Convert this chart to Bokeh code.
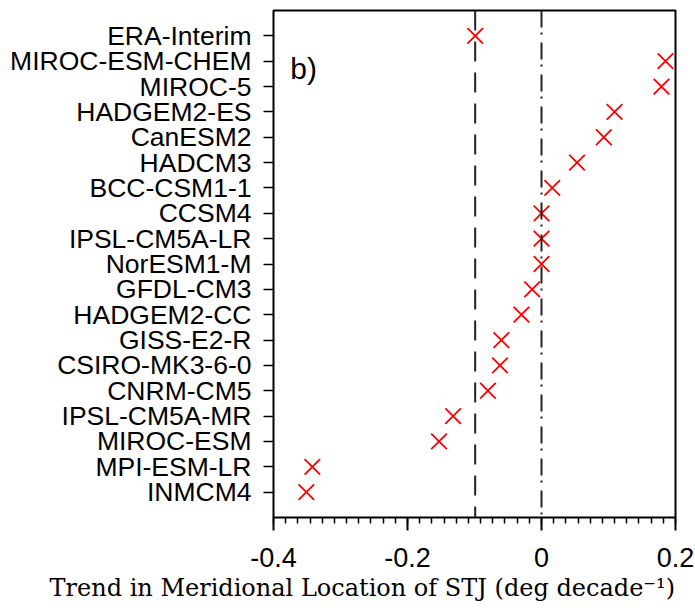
from bokeh.plotting import figure
from bokeh.models import FixedTicker, Span, Label, Range1d, Title
from bokeh.embed import file_html
from bokeh.resources import INLINE

models = ["ERA-Interim", "MIROC-ESM-CHEM", "MIROC-5", "HADGEM2-ES", "CanESM2",
          "HADCM3", "BCC-CSM1-1", "CCSM4", "IPSL-CM5A-LR", "NorESM1-M",
          "GFDL-CM3", "HADGEM2-CC", "GISS-E2-R", "CSIRO-MK3-6-0", "CNRM-CM5",
          "IPSL-CM5A-MR", "MIROC-ESM", "MPI-ESM-LR", "INMCM4"]
trends = [-0.099, 0.185, 0.179, 0.109, 0.093,
          0.053, 0.016, 0.0, 0.0, 0.0,
          -0.014, -0.030, -0.060, -0.062, -0.080,
          -0.132, -0.153, -0.342, -0.351]
era_trend = -0.099
x_ticks = [-0.4, -0.2, 0.0, 0.2]
x_tick_labels = {-0.4: "-0.4", -0.2: "-0.2", 0.0: "0", 0.2: "0.2"}

n = len(models)
ypos = [n - i for i in range(n)]

p = figure(width=695, height=615, output_backend="svg", toolbar_location=None,
           x_range=Range1d(-0.4, 0.2), y_range=Range1d(0, n + 1),
           min_border_left=273, min_border_right=20, min_border_top=10,
           min_border_bottom=98)
p.grid.visible = False
p.outline_line_color = "black"
p.outline_line_width = 2
p.background_fill_color = "white"
p.border_fill_color = "white"

# zero line and ERA-Interim line
p.add_layout(Span(location=0.0, dimension="height", line_color="#222222",
                  line_width=2, line_dash="17 5 2 8"))
p.add_layout(Span(location=era_trend, dimension="height", line_color="#222222",
                  line_width=2, line_dash="20 11"))

p.scatter(trends, ypos, marker="x", size=22, line_color="red", line_width=1.8)

# x axis
xa = p.xaxis[0]
xa.ticker = FixedTicker(ticks=x_ticks,
                        minor_ticks=[round(-0.4 + i * 0.2 / 11, 5) for i in range(34)])
xa.major_label_overrides = {k: v for k, v in x_tick_labels.items()}
xa.major_label_text_font = "Liberation Sans"
xa.major_label_text_font_size = "27px"
xa.major_label_text_color = "black"
xa.major_tick_in = 0
xa.major_tick_out = 13
xa.minor_tick_in = 0
xa.minor_tick_out = 6
xa.major_tick_line_width = 2
xa.minor_tick_line_width = 1.5
xa.axis_line_color = None
xa.major_label_standoff = 17

# y axis
ya = p.yaxis[0]
ya.ticker = FixedTicker(ticks=ypos)
ya.major_label_overrides = {y: m for y, m in zip(ypos, models)}
ya.major_label_text_font = "Liberation Sans"
ya.major_label_text_font_size = "26.5px"
ya.major_label_text_color = "black"
ya.major_tick_in = 0
ya.major_tick_out = 10
ya.minor_tick_line_color = None
ya.major_tick_line_width = 1.5
ya.axis_line_color = None
ya.major_label_standoff = 12

p.add_layout(Label(x=-0.375, y=n - 1.95, text="b)", text_font="Liberation Sans",
                   text_font_size="30px", text_color="black"))

xtitle = Title(text="Trend in Meridional Location of STJ (deg  decade\u207b\u00b9)",
               text_font="DejaVu Serif", text_font_size="24px",
               text_font_style="normal", text_color="black",
               align="left", offset=-224, standoff=4)
p.add_layout(xtitle, "below")

open("out.html", "w").write(file_html(p, INLINE))
